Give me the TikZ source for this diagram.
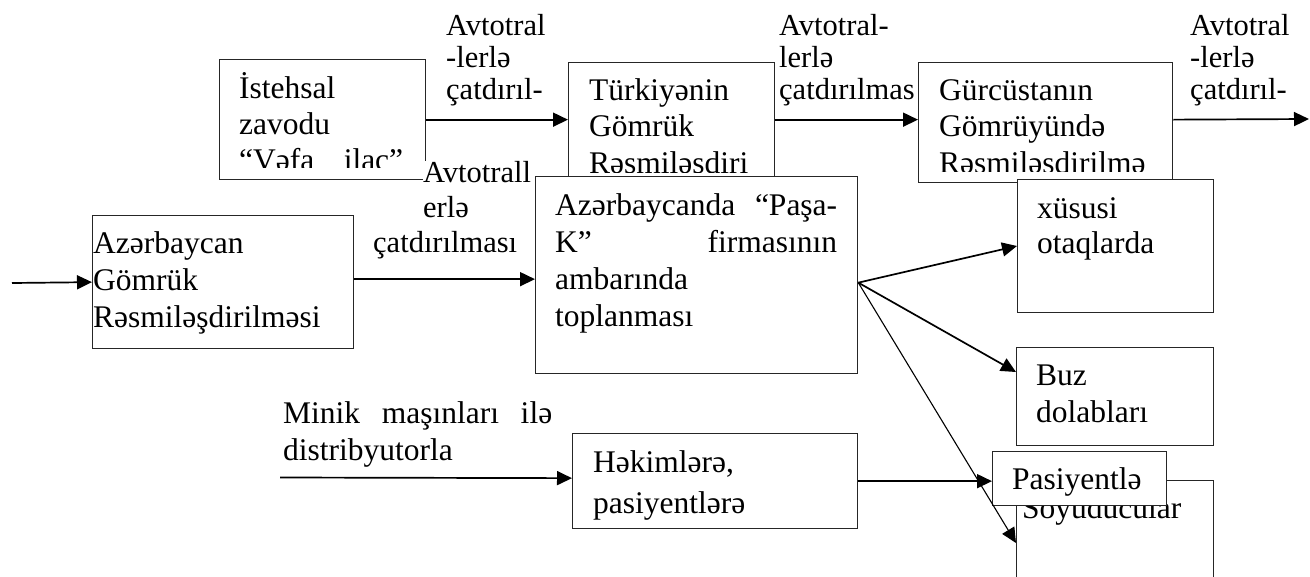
\documentclass[tikz,border=0pt]{standalone}
\usepackage{fontspec}
\setmainfont{Liberation Serif}
\usetikzlibrary{arrows.meta}
\newcommand\tlines[2]{\vtop{\baselineskip=#1pt\lineskiplimit=-200pt\lineskip=0pt #2}}
\begin{document}
\begin{tikzpicture}[x=1pt,y=-1pt,
  box/.style={draw=black!85, line width=1.3pt, fill=white, inner sep=0pt, anchor=north west},
  txt/.style={inner sep=0pt, anchor=base west, font=\fontsize{31.5}{37}\selectfont},
  lbl/.style={inner sep=0pt, anchor=base west, font=\fontsize{30.5}{33}\selectfont, fill=white},
  arr/.style={line width=1.7pt, -{Triangle[length=15pt,width=14pt]}},
  thinarr/.style={line width=1.1pt, -{Triangle[length=15pt,width=14pt]}}]
\useasboundingbox (0,0) rectangle (1310,576);

% top row
\node[box, minimum width=206pt, minimum height=120pt] (ist) at (219,59) {};
\begin{scope}
\clip (219,59) rectangle (425,167);
\node[txt] (istT) at (239,98) {\tlines{36}{\hbox{İstehsal}\hbox{zavodu}\hbox to 164pt{“Vəfa\hfill ilac”}}};
\end{scope}

\node[box, minimum width=206pt, minimum height=114pt] (tur) at (568,62) {};
\begin{scope}
\clip (568,62) rectangle (774,172);
\node[txt] (turT) at (589,100) {\tlines{36.5}{\hbox{Türkiyənin}\hbox{Gömrük}\hbox{Rəsmiləşdiri}}};
\end{scope}

\node[box, minimum width=254pt, minimum height=120pt] (gur) at (918,62) {};
\begin{scope}
\clip (918,62) rectangle (1172,171);
\node[txt] (gurT) at (939,100) {\tlines{36.5}{\hbox{Gürcüstanın}\hbox{Gömrüyündə}\hbox{Rəsmiləşdirilmə}}};
\end{scope}

% labels
\node[lbl] (l1) at (446,35) {\tlines{32}{\hbox{Avtotral}\hbox{-lerlə}\hbox{çatdırıl-}}};
\node[lbl] (l2) at (779,35) {\tlines{32}{\hbox{Avtotral-}\hbox{lerlə}\hbox{çatdırılmas}}};
\node[lbl] (l3) at (1190,35) {\tlines{32}{\hbox{Avtotral}\hbox{-lerlə}\hbox{çatdırıl-}}};
\node[lbl] (l4) at (423,182) {\tlines{35}{\hbox{Avtotrall}\hbox{erlə}\hbox{\kern-50pt çatdırılması}}};

% middle row
\node[box, minimum width=261pt, minimum height=133pt] (az) at (92,215) {};
\node[txt] (azT) at (93,253) {\tlines{37}{\hbox{Azərbaycan}\hbox{Gömrük}\hbox{Rəsmiləşdirilməsi}}};

\node[box, minimum width=322pt, minimum height=197pt] (aza) at (535,176) {};
\node[txt] (azaT) at (555,215) {\tlines{37}{\hbox to 282pt{Azərbaycanda\hfill “Paşa-}\hbox to 282pt{K”\hfill firmasının}\hbox{ambarında}\hbox{toplanması}}};

\node[box, minimum width=196pt, minimum height=133pt] (xus) at (1017,179) {};
\node[txt] (xusT) at (1037,218) {\tlines{35}{\hbox{xüsusi}\hbox{otaqlarda}}};

\node[box, minimum width=197pt, minimum height=98pt] (buz) at (1016,347) {};
\node[txt] (buzT) at (1036,385) {\tlines{37}{\hbox{Buz}\hbox{dolabları}}};

% bottom row
\node[txt] (minik) at (283,423) {\tlines{37}{\hbox to 269pt{Minik\hfill maşınları\hfill ilə}\hbox{distribyutorla}}};

\node[box, minimum width=285pt, minimum height=95pt] (hek) at (572,433) {};
\node[txt] (hekT) at (593,472) {\tlines{41}{\hbox{Həkimlərə,}\hbox{pasiyentlərə}}};

\node[box, minimum width=197pt, minimum height=130pt] (soy) at (1016,480) {};
\node[txt] (soyT) at (1022,518) {Soyuducular};

\node[box, minimum width=174pt, minimum height=54pt] (pas) at (992,451) {};
\node[txt] (pasT) at (1012,489) {Pasiyentlə};

% connectors
\coordinate (endR) at (1309,119);
\coordinate (in0) at (12,283);
\coordinate (mstart) at (280,477.5);
\coordinate (fan) at ([yshift=-7.5pt]aza.east);

\draw[arr] (ist.east) -- (ist.east -| tur.west);
\draw[arr] (tur.east) -- (tur.east -| gur.west);
\draw[arr] ([yshift=3pt]gur.east) -- (endR);
\draw[arr] (in0) -- (az.west);
\draw[arr] ([yshift=3pt]az.east) -- ([yshift=3pt]az.east -| aza.west);
\draw[arr] (fan) -- ([yshift=-67pt]xus.north west);
\draw[arr] (fan) -- ([yshift=-25pt]buz.north west);
\draw[thinarr] (fan) -- ([yshift=-63pt]soy.north west);
\draw[arr] (mstart) -- ([yshift=3pt]hek.west);
\draw[arr] (hek.east) -- (hek.east -| pas.west);
\end{tikzpicture}
\end{document}
